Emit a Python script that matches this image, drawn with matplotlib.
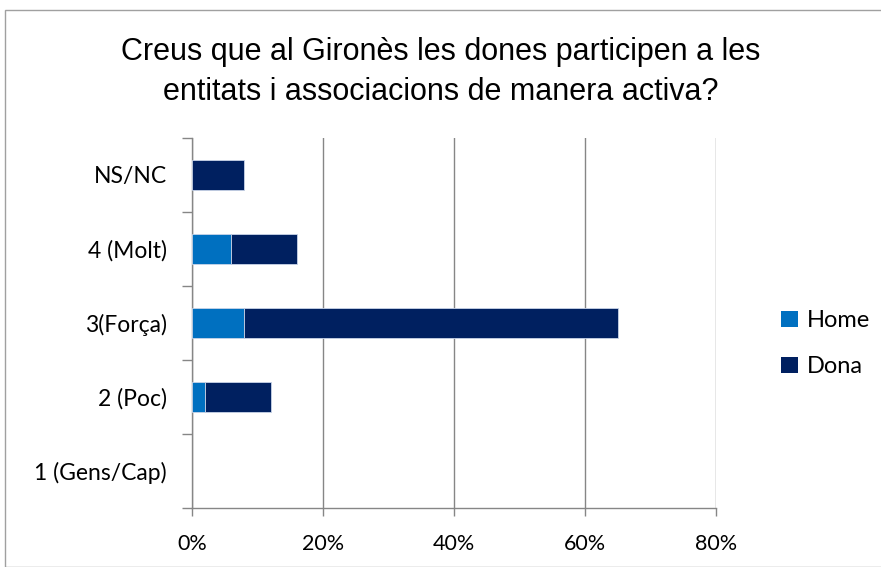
import matplotlib
matplotlib.use("Agg")
import matplotlib.pyplot as plt
from matplotlib.patches import Rectangle
from matplotlib.ticker import FuncFormatter, FixedLocator

categories = ["1 (Gens/Cap)", "2 (Poc)", "3(Força)", "4 (Molt)", "NS/NC"]
home = [0, 2, 8, 6, 0]
dona = [0, 10, 57, 10, 8]
xticks = [0, 20, 40, 60, 80]
title = "Creus que al Gironès les dones participen a les\nentitats i associacions de manera activa?"

c_home = "#0070C0"
c_dona = "#002060"
grid_c = "#868686"

fig = plt.figure(figsize=(8.81, 5.67), dpi=100)
fig.patches.append(Rectangle((5/881, 0), 1, 1 - 10/567, transform=fig.transFigure,
                             fill=False, edgecolor="#A0A0A0", linewidth=1.0))

ax = fig.add_axes([192/881, 1 - 508/567, (716-192)/881, (508-138)/567])
y = list(range(len(categories)))
lw_h = [0.6 if v > 0 else 0 for v in home]
lw_d = [0.6 if v > 0 else 0 for v in dona]
ax.barh(y, home, height=0.4, color=c_home, edgecolor="#C8D4E8", linewidth=lw_h, label="Home", zorder=3)
ax.barh(y, dona, left=home, height=0.4, color=c_dona, edgecolor="#C8D4E8", linewidth=lw_d, label="Dona", zorder=3)

ax.set_xlim(0, 80)
ax.set_ylim(-0.5, len(categories) - 0.5)
ax.set_xticks(xticks)
ax.xaxis.set_major_formatter(FuncFormatter(lambda v, p: f"{int(v)}%"))
ax.set_yticks(y)
ax.set_yticklabels(categories)
ax.yaxis.set_minor_locator(FixedLocator([i - 0.5 for i in range(len(categories) + 1)]))
ax.tick_params(axis="y", which="major", length=0, pad=18, labelsize=16.5)
ax.tick_params(axis="y", which="minor", length=7, color=grid_c, width=1)
ax.tick_params(axis="x", length=6, color=grid_c, width=1, pad=13, labelsize=15.5)
for lab in ax.get_xticklabels() + ax.get_yticklabels():
    lab.set_fontfamily("Lato")

ax.grid(axis="x", color=grid_c, linewidth=1, zorder=0)
for s in ["top", "right"]:
    ax.spines[s].set_visible(False)
for s in ["left", "bottom"]:
    ax.spines[s].set_color(grid_c)
    ax.spines[s].set_linewidth(1)

fig.text(0.5, 1 - 72/567, title, ha="center", va="center", fontsize=22,
         family="Liberation Sans", linespacing=1.45)

leg = fig.legend(loc="upper left", bbox_to_anchor=(760/881, 1 - 289/567), frameon=False,
                 prop={"family": "Lato", "size": 17}, handlelength=0.7, handleheight=0.7,
                 handletextpad=0.4, labelspacing=1.05)

fig.savefig("out.png", dpi=100)
